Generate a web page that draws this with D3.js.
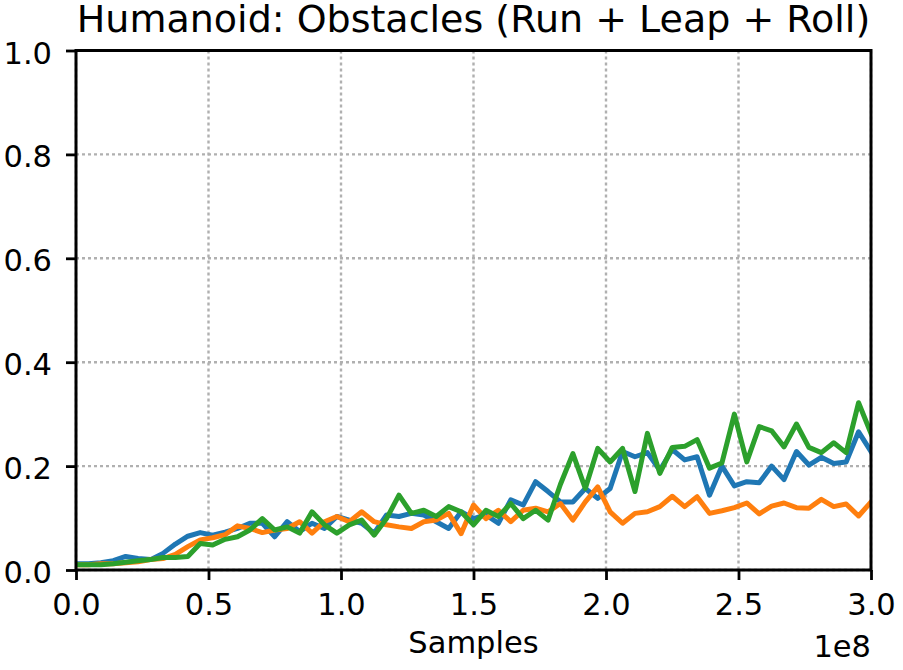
<!DOCTYPE html>
<html>
<head>
<meta charset="utf-8">
<script src="https://cdn.jsdelivr.net/npm/d3@7"></script>
<style>
    body { margin: 0; background: #fff; }
    text { font-family: "DejaVu Sans", sans-serif; fill: #000; }
</style>
</head>
<body>
<div id="chart"></div>
<script>
// samples, in units of 1e8 (65 evenly spaced logging points)
var sampleCount = 65;
var xTicks = [0.0, 0.5, 1.0, 1.5, 2.0, 2.5, 3.0];
var yTicks = [0.0, 0.2, 0.4, 0.6, 0.8, 1.0];

var blueValues = [
    0.012, 0.012, 0.014, 0.018, 0.026, 0.022, 0.020, 0.032, 0.050, 0.065,
    0.072, 0.067, 0.073, 0.080, 0.090, 0.090, 0.064, 0.093, 0.074, 0.090,
    0.080, 0.103, 0.096, 0.090, 0.071, 0.106, 0.103, 0.109, 0.106, 0.093,
    0.080, 0.112, 0.099, 0.106, 0.090, 0.135, 0.125, 0.170, 0.151, 0.131,
    0.131, 0.157, 0.138, 0.157, 0.228, 0.218, 0.226, 0.192, 0.232, 0.212,
    0.218, 0.144, 0.200, 0.162, 0.170, 0.168, 0.200, 0.174, 0.228, 0.202,
    0.217, 0.205, 0.208, 0.266, 0.228
];
var orangeValues = [
    0.010, 0.010, 0.012, 0.012, 0.014, 0.016, 0.020, 0.022, 0.030, 0.045,
    0.058, 0.062, 0.068, 0.085, 0.080, 0.072, 0.077, 0.080, 0.093, 0.071,
    0.093, 0.103, 0.093, 0.112, 0.093, 0.087, 0.083, 0.080, 0.093, 0.096,
    0.109, 0.070, 0.125, 0.099, 0.115, 0.093, 0.115, 0.119, 0.112, 0.128,
    0.096, 0.131, 0.160, 0.112, 0.090, 0.109, 0.112, 0.122, 0.142, 0.122,
    0.141, 0.109, 0.114, 0.120, 0.129, 0.108, 0.123, 0.129, 0.120, 0.119,
    0.136, 0.122, 0.127, 0.104, 0.131
];
var greenValues = [
    0.010, 0.010, 0.010, 0.012, 0.015, 0.018, 0.020, 0.024, 0.024, 0.026,
    0.051, 0.048, 0.059, 0.064, 0.077, 0.099, 0.077, 0.083, 0.071, 0.112,
    0.087, 0.071, 0.087, 0.096, 0.067, 0.099, 0.144, 0.109, 0.115, 0.103,
    0.122, 0.112, 0.087, 0.115, 0.103, 0.128, 0.099, 0.115, 0.096, 0.165,
    0.224, 0.157, 0.234, 0.208, 0.234, 0.151, 0.263, 0.186, 0.236, 0.238,
    0.251, 0.196, 0.206, 0.300, 0.208, 0.276, 0.268, 0.237, 0.281, 0.236,
    0.226, 0.245, 0.226, 0.322, 0.263
];
var seriesColors = ['#1f77b4', '#ff7f0e', '#2ca02c'];

var width = 903, height = 670;
var margin = { top: 50.5, right: 32, bottom: 100, left: 76 };
var plotW = width - margin.left - margin.right;
var plotH = height - margin.top - margin.bottom;

var samples = d3.range(sampleCount).map(function(i) { return 3.0 * i / (sampleCount - 1); });

var svg = d3.select('#chart').append('svg')
    .attr('width', width)
    .attr('height', height);

var x = d3.scaleLinear().domain([0, 3.0]).range([0, plotW]);
var y = d3.scaleLinear().domain([0, 1.0]).range([plotH, 0]);

var g = svg.append('g').attr('transform', 'translate(' + margin.left + ',' + margin.top + ')');

g.append('clipPath').attr('id', 'plot-clip')
    .append('rect').attr('width', plotW).attr('height', plotH);

// grid
g.append('g').selectAll('line').data(xTicks).enter().append('line')
    .attr('x1', function(d) { return x(d); })
    .attr('x2', function(d) { return x(d); })
    .attr('y1', 0).attr('y2', plotH)
    .attr('stroke', '#b0b0b0').attr('stroke-width', 2.4).attr('stroke-dasharray', '3,3');
g.append('g').selectAll('line').data(yTicks).enter().append('line')
    .attr('y1', function(d) { return y(d); })
    .attr('y2', function(d) { return y(d); })
    .attr('x1', 0).attr('x2', plotW)
    .attr('stroke', '#b0b0b0').attr('stroke-width', 2.4).attr('stroke-dasharray', '3,3');

// series
var line = d3.line()
    .x(function(d, i) { return x(samples[i]); })
    .y(function(d) { return y(d); });

g.append('g').attr('clip-path', 'url(#plot-clip)')
    .selectAll('path')
    .data([blueValues, orangeValues, greenValues])
    .enter().append('path')
    .attr('d', line)
    .attr('fill', 'none')
    .attr('stroke', function(d, i) { return seriesColors[i]; })
    .attr('stroke-width', 5)
    .attr('stroke-linejoin', 'round')
    .attr('stroke-linecap', 'square');

// axes
var xAxis = g.append('g')
    .attr('transform', 'translate(0,' + plotH + ')')
    .call(d3.axisBottom(x).tickValues(xTicks).tickFormat(d3.format('.1f')).tickSize(10));
var yAxis = g.append('g')
    .call(d3.axisLeft(y).tickValues(yTicks).tickFormat(d3.format('.1f')).tickSize(10));

[xAxis, yAxis].forEach(function(ax) {
    ax.select('.domain').remove();
    ax.selectAll('.tick line').attr('stroke', '#000').attr('stroke-width', 2.8);
    ax.selectAll('.tick text').attr('font-size', 30.5).attr('fill', '#000')
        .style('font-family', '"DejaVu Sans", sans-serif');
});
xAxis.selectAll('.tick text').attr('y', 45).attr('dy', 0);
yAxis.selectAll('.tick text').attr('x', -24).attr('y', 12.5).attr('dy', 0);

// frame
g.append('rect')
    .attr('width', plotW).attr('height', plotH)
    .attr('fill', 'none').attr('stroke', '#000').attr('stroke-width', 3);

// labels
svg.append('text')
    .attr('x', margin.left + plotW / 2).attr('y', 32)
    .attr('text-anchor', 'middle').attr('font-size', 38)
    .text('Humanoid: Obstacles (Run + Leap + Roll)');

svg.append('text')
    .attr('x', margin.left + plotW / 2).attr('y', 653)
    .attr('text-anchor', 'middle').attr('font-size', 30.5)
    .text('Samples');

svg.append('text')
    .attr('x', margin.left + plotW).attr('y', 656.5)
    .attr('text-anchor', 'end').attr('font-size', 30.5)
    .text('1e8');
</script>
</body>
</html>
